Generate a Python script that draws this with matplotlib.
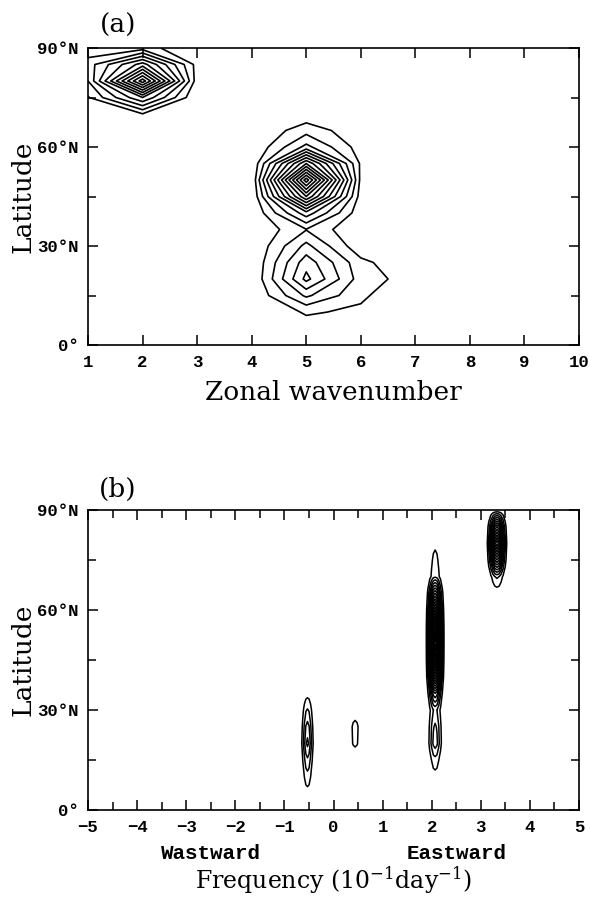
import numpy as np
import matplotlib
matplotlib.use('Agg')
import matplotlib.pyplot as plt
from matplotlib.ticker import MultipleLocator

plt.rcParams['mathtext.fontset'] = 'dejavuserif'

# ---- panel (a): power by zonal wavenumber and latitude ----
wavenumber = [1, 2, 3, 4, 5, 6, 7, 8, 9, 10]
lat = [0, 5, 10, 15, 20, 25, 30, 35, 40, 45, 50, 55, 60, 65, 70, 75, 80, 85, 90]

# rows = latitude (0..90 every 5 deg), columns = wavenumber 1..10
power_a = [
    [0.0, 0.0, 0.0, 0.0, 0.0, 0.0, 0.0, 0.0, 0.0, 0.0],
    [0.0, 0.0, 0.0, 0.0, 0.5, 0.2, 0.0, 0.0, 0.0, 0.0],
    [0.0, 0.0, 0.0, 0.0, 1.13, 0.8, 0.0, 0.0, 0.0, 0.0],
    [0.0, 0.0, 0.0, 0.0, 3.2, 1.2, 0.0, 0.0, 0.0, 0.0],
    [0.0, 0.0, 0.0, 0.0, 5.3, 1.5, 0.5, 0.0, 0.0, 0.0],
    [0.0, 0.0, 0.0, 0.0, 4.6, 1.3, 0.0, 0.0, 0.0, 0.0],
    [0.0, 0.0, 0.0, 0.0, 3.3, 0.23, 0.0, 0.0, 0.0, 0.0],
    [0.0, 0.0, 0.0, 0.0, 1.95, 0.0, 0.0, 0.0, 0.0, 0.0],
    [0.0, 0.0, 0.0, 0.0, 4.6, 0.3, 0.0, 0.0, 0.0, 0.0],
    [0.0, 0.0, 0.0, 0.0, 10.0, 0.5, 0.0, 0.0, 0.0, 0.0],
    [0.0, 0.0, 0.0, 0.0, 14.6, 0.7, 0.0, 0.0, 0.0, 0.0],
    [0.0, 0.0, 0.0, 0.0, 9.0, 0.8, 0.0, 0.0, 0.0, 0.0],
    [0.0, 0.0, 0.0, 0.0, 3.3, 0.5, 0.0, 0.0, 0.0, 0.0],
    [0.0, 0.0, 0.0, 0.0, 1.6, 0.3, 0.0, 0.0, 0.0, 0.0],
    [0.0, 0.95, 0.0, 0.0, 0.3, 0.0, 0.0, 0.0, 0.0, 0.0],
    [0.9, 5.0, 0.0, 0.0, 0.0, 0.0, 0.0, 0.0, 0.0, 0.0],
    [2.0, 11.6, 0.4, 0.0, 0.0, 0.0, 0.0, 0.0, 0.0, 0.0],
    [2.5, 6.5, 0.6, 0.0, 0.0, 0.0, 0.0, 0.0, 0.0, 0.0],
    [1.3, 1.5, 0.0, 0.0, 0.0, 0.0, 0.0, 0.0, 0.0, 0.0],
]
levels_a = np.arange(1, 15)

# ---- panel (b): power by frequency and latitude ----
# spectral peaks: centre frequency, half width, latitude profile (0..90 every 5 deg)
peak_freq = [-0.53, 0.44, 2.07, 3.33]
peak_width = [0.19, 0.24, 0.22, 0.25]
profile_m05 = [0, 0.6, 1.6, 2.8, 4.3, 3.4, 2.1, 0.6, 0, 0, 0, 0, 0, 0, 0, 0, 0, 0, 0]
profile_p05 = [0, 0, 0, 0.3, 1.2, 1.3, 0.5, 0, 0, 0, 0, 0, 0, 0, 0, 0, 0, 0, 0]
profile_p21 = [0, 0, 0.6, 1.6, 3.6, 3.2, 2.2, 6, 13, 19, 21, 20, 14, 8, 1.8, 1.3, 0.8, 0, 0]
profile_p33 = [0, 0, 0, 0, 0, 0, 0, 0, 0, 0, 0, 0, 0, 0.3, 2.2, 9, 15, 9, 0]
line_offsets = [-1.0, -0.83, -0.67, -0.5, -0.33, -0.17, 0.0, 0.17, 0.33, 0.5, 0.67, 0.83, 1.0]
line_shape = [0.0, 0.04, 0.16, 0.37, 0.64, 0.9, 1.0, 0.9, 0.64, 0.37, 0.16, 0.04, 0.0]
levels_b = np.arange(1, 22)

profiles = [profile_m05, profile_p05, profile_p21, profile_p33]
freq_cols = [-5.0]
blocks = [np.zeros((len(lat), 1))]
for f0, w, prof in zip(peak_freq, peak_width, profiles):
    freq_cols += [f0 + o * w for o in line_offsets]
    blocks.append(np.outer(prof, line_shape))
freq_cols.append(5.0)
blocks.append(np.zeros((len(lat), 1)))
power_b = np.hstack(blocks)

# ---- figure ----
W, H = 590, 902
fig = plt.figure(figsize=(W / 100, H / 100), dpi=100)
left, right = 88, 579
ax_a = fig.add_axes([left / W, 1 - 345 / H, (right - left) / W, 297 / H])
ax_b = fig.add_axes([left / W, 1 - 810 / H, (right - left) / W, 300 / H])

tick_font = dict(family='Liberation Mono', weight='bold', size=12.5)
label_font = dict(family='DejaVu Serif', size=19)

ax_a.contour(wavenumber, lat, power_a, levels=levels_a, colors='k', linewidths=1.2)
ax_b.contour(freq_cols, lat, power_b, levels=levels_b, colors='k', linewidths=1.1)

lat_ticks = [0, 30, 60, 90]
lat_labels = ['0°', '30°N', '60°N', '90°N']
for ax in (ax_a, ax_b):
    ax.set_ylim(0, 90)
    ax.set_yticks(lat_ticks)
    ax.set_yticklabels(lat_labels, fontdict=tick_font)
    ax.yaxis.set_minor_locator(MultipleLocator(15))
    ax.tick_params(which='both', direction='in', top=True, right=True, width=1.1, pad=7)
    ax.tick_params(which='major', length=7)
    ax.tick_params(which='minor', length=6)
    for sp in ax.spines.values():
        sp.set_linewidth(1.2)

ax_a.set_xlim(1, 10)
ax_a.set_xticks(wavenumber)
ax_a.set_xticklabels([str(v) for v in wavenumber], fontdict=tick_font)

freq_ticks = list(range(-5, 6))
ax_b.set_xlim(-5, 5)
ax_b.set_xticks(freq_ticks)
ax_b.set_xticklabels(['\u2212%d' % -v if v < 0 else str(v) for v in freq_ticks], fontdict=tick_font)
ax_b.xaxis.set_minor_locator(MultipleLocator(0.5))

# axis titles
fig.text(333 / W, 1 - 393 / H, 'Zonal wavenumber', ha='center', va='center', **label_font)
fig.text(23 / W, 1 - 197 / H, 'Latitude', rotation=90, ha='center', va='center', **label_font)
fig.text(23 / W, 1 - 660 / H, 'Latitude', rotation=90, ha='center', va='center', **label_font)
ax_b.text(-2.5, -0.145, 'Wastward', transform=ax_b.get_xaxis_transform(),
          ha='center', va='center', family='Liberation Mono', weight='bold', size=15)
ax_b.text(2.5, -0.145, 'Eastward', transform=ax_b.get_xaxis_transform(),
          ha='center', va='center', family='Liberation Mono', weight='bold', size=15)
ax_b.text(0.5, -0.235, 'Frequency (10$^{-1}$day$^{-1}$)', transform=ax_b.transAxes,
          ha='center', va='center', family='DejaVu Serif', size=17)

fig.text(118 / W, 1 - 25 / H, '(a)', ha='center', va='center', family='DejaVu Serif', size=19)
fig.text(118 / W, 1 - 489 / H, '(b)', ha='center', va='center', family='DejaVu Serif', size=19)

fig.savefig('out.png', dpi=100)
